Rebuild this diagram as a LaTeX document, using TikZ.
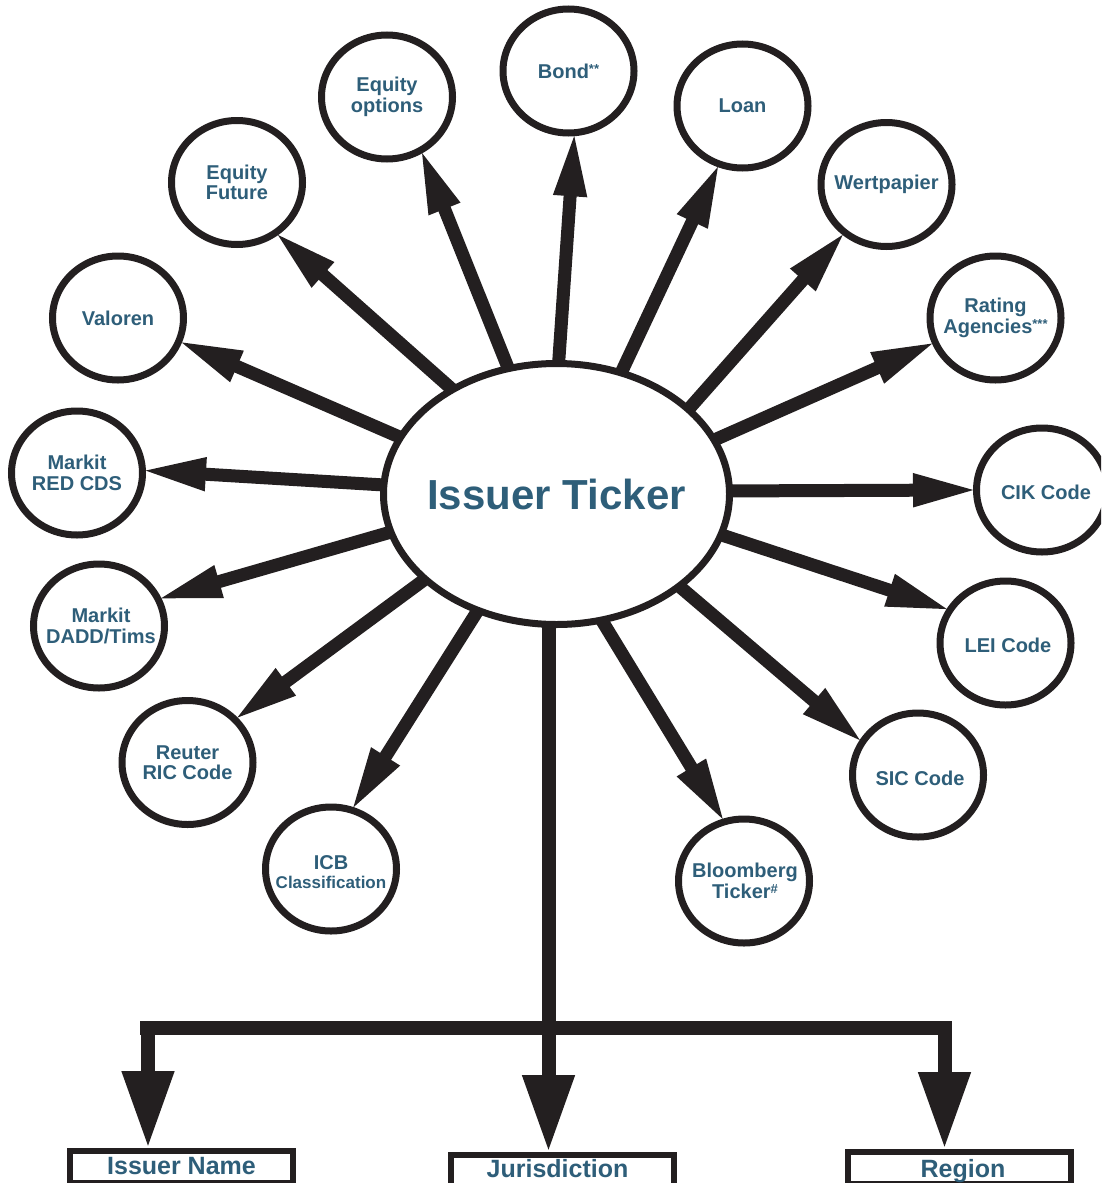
\documentclass[tikz,border=0pt]{standalone}
\usepackage{fontspec}
\setmainfont{Liberation Sans}
\usetikzlibrary{arrows.meta,shapes.geometric}
\definecolor{ink}{RGB}{35,31,32}
\definecolor{labcol}{RGB}{46,94,121}
\pgfdeclarelayer{bg}
\pgfsetlayers{bg,main}
\newcommand\myexp[1]{\raisebox{5pt}{\fontsize{13}{13}\selectfont #1}}
\begin{document}
\begin{tikzpicture}[x=1pt,y=-1pt,
  hub/.style={ellipse, draw=ink, line width=7pt, fill=white, minimum width=346pt, minimum height=261pt, inner sep=0pt},
  circ/.style={ellipse, draw=ink, line width=7pt, fill=white, minimum width=131pt, minimum height=124pt, inner sep=0pt},
  lab/.style={text=labcol, font=\bfseries\fontsize{20}{20.5}\selectfont, align=center, inner sep=0pt},
  boxnode/.style={rectangle, draw=ink, line width=6pt, fill=white, minimum width=223pt, minimum height=32pt, inner sep=0pt},
  boxlab/.style={text=labcol, font=\bfseries\fontsize{25}{25}\selectfont, inner sep=0pt, anchor=base},
  spoke/.style={draw=ink, fill=ink, line width=13pt, shorten <=-8pt, shorten >=-6pt, -{Triangle[length=66pt 0 0, width=30pt 0 0]}},
  trunk/.style={draw=ink, fill=ink, line width=14pt, -{Triangle[length=77pt 0 0, width=49pt 0 0]}},
  barline/.style={draw=ink, line width=14pt}]
\clip (0,0) rectangle (1101,1183);
\useasboundingbox (0,0) rectangle (1101,1183);

% hub
\node[hub] (ell) at (556.5,494) {};
\node[lab, font=\bfseries\fontsize{42}{42}\selectfont] (ellt) at (ell) {Issuer Ticker};

% satellites
\node[circ] (bond) at (568.5,71) {};
\node[lab] (bondt) at (bond) {Bond\myexp{**}};
\node[circ] (eqopt) at (387,97) {};
\node[lab] (eqoptt) at (eqopt) {Equity\\options};
\node[circ] (loan) at (742.5,106) {};
\node[lab] (loant) at (loan) {Loan};
\node[circ] (eqfut) at (237,182.5) {};
\node[lab] (eqfutt) at (eqfut) {Equity\\Future};
\node[circ] (wert) at (886.5,184.5) {};
\node[lab] (wertt) at (wert) {Wertpapier};
\node[circ] (valo) at (118,318) {};
\node[lab] (valot) at (valo) {Valoren};
\node[circ] (rate) at (995.5,318) {};
\node[lab] (ratet) at (rate) {Rating\\Agencies\myexp{***}};
\node[circ] (red) at (77,473) {};
\node[lab] (redt) at (red) {Markit\\RED CDS};
\node[circ] (cik) at (1042,490) {};
\node[lab] (cikt) at (1046,492) {CIK Code};
\node[circ] (dadd) at (99,626) {};
\node[lab] (daddt) at (101,626) {Markit\\DADD/Tims};
\node[circ] (lei) at (1005.5,643) {};
\node[lab] (leit) at (1008,645) {LEI Code};
\node[circ] (reut) at (187.5,762.5) {};
\node[lab] (reutt) at (reut) {Reuter\\RIC Code};
\node[circ] (sic) at (918,775) {};
\node[lab] (sict) at (920,778) {SIC Code};
\node[circ] (icb) at (331,869) {};
\node[lab] (icbt) at (331,872) {ICB\\[-2pt]{\fontsize{17}{17}\selectfont Classification}};
\node[circ] (bloom) at (744,881) {};
\node[lab] (bloomt) at (745,881) {Bloomberg\\Ticker\myexp{\#}};

% bottom boxes
\node[boxnode] (iname) at (181.5,1167) {};
\node[boxlab] (inamet) at (181.5,1174) {Issuer Name};
\node[boxnode] (jur) at (562.5,1171) {};
\node[boxlab] (jurt) at (557.5,1177) {Jurisdiction};
\node[boxnode] (reg) at (959.5,1168) {};
\node[boxlab] (regt) at (963,1177) {Region};

\coordinate (jx) at (548.5,1000);
\coordinate (barL) at (140,1028);
\coordinate (barR) at (952,1028);
\coordinate (legL) at (148,1021);
\coordinate (legR) at (944.5,1021);

\begin{pgfonlayer}{bg}
\draw[spoke] (ell.89.8) -- (bond.-85.5);
\draw[spoke] (ell.111.3) -- (eqopt.-58);
\draw[spoke] (ell.62.9) -- (loan.-112.5);
\draw[spoke] (ell.135.1) -- (eqfut.-52.4);
\draw[spoke] (ell.33.7) -- (wert.-131.5);
\draw[spoke] (ell.160.6) -- (valo.-21);
\draw[spoke] (ell.19.2) -- (rate.-158.4);
\draw[spoke] (ell.177.7) -- (red.2);
\draw[spoke] (ell.1.6) -- (cik.180);
\draw[spoke] (ell.193) -- (dadd.24);
\draw[spoke] (ell.-14.6) -- (lei.150);
\draw[spoke] (ell.213.8) -- (reut.42.9);
\draw[spoke] (ell.-37.9) -- (sic.149.7);
\draw[spoke] (ell.236.4) -- (icb.70.5);
\draw[spoke] (ell.-70.3) -- (bloom.109);

\draw[trunk, shorten <=-8pt] (ell.south -| jx) -- (jur.north -| jx);
\draw[barline] (barL) -- (barR);
\draw[trunk] (legL) -- (legL |- iname.north);
\draw[trunk] (legR) -- (legR |- reg.north);
\end{pgfonlayer}
\end{tikzpicture}
\end{document}
